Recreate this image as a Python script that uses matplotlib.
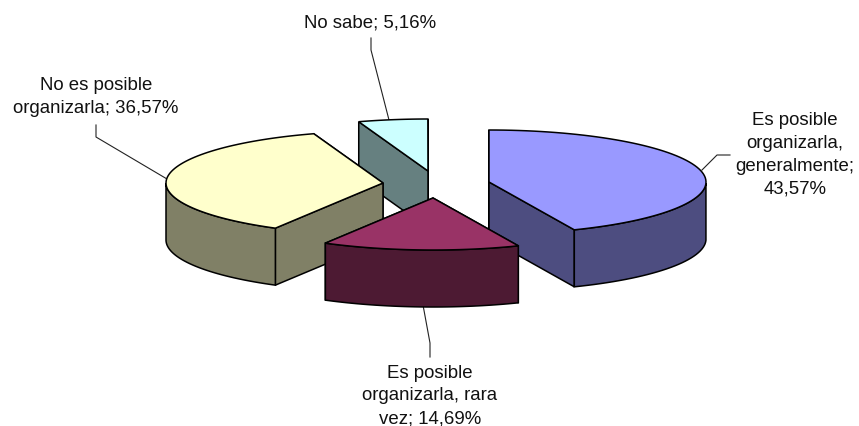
import numpy as np
import matplotlib
matplotlib.use('Agg')
import matplotlib.pyplot as plt
from matplotlib.patches import Polygon

labels = ['Es posible\norganizarla,\ngeneralmente;\n43,57%',
          'Es posible\norganizarla, rara\nvez; 14,69%',
          'No es posible\norganizarla; 36,57%',
          'No sabe; 5,16%']
values = [43.57, 14.69, 36.57, 5.16]
top_colors = ['#9999FF', '#993366', '#FFFFCC', '#CCFFFF']
side_colors = ['#4D4D80', '#4D1A33', '#808066', '#668080']

# pie geometry in image pixels
centers = [(489, 182), (433, 198), (383, 183), (428, 171)]
rx, ry, depth = 217, 52, 57
draw_order = [3, 2, 0, 1]

label_pos = [(795, 155), (430, 396), (96, 97), (370, 23)]
leaders = [[(702, 170), (717, 155), (730, 155)],
           [(423, 305), (430, 343), (430, 357)],
           [(167, 179), (96, 137), (96, 125)],
           [(389, 120), (371, 50), (371, 38)]]

plt.rcParams['font.family'] = ['Liberation Sans', 'DejaVu Sans']
fig = plt.figure(figsize=(8.59, 4.26), dpi=100)
ax = fig.add_axes([0, 0, 1, 1])
ax.set_xlim(0, 859)
ax.set_ylim(426, 0)
ax.axis('off')


def rim(cx, cy, t):
    # t is measured clockwise from 12 o'clock
    return cx + rx * np.sin(t), cy - ry * np.cos(t)


edges = np.radians(np.cumsum([0] + values) * 3.6)

for line in leaders:
    xs, ys = zip(*line)
    ax.plot(xs, ys, color='#222222', lw=0.8, zorder=1)

for z, i in enumerate(draw_order):
    cx, cy = centers[i]
    t = np.linspace(edges[i], edges[i + 1], 80)
    x, y = rim(cx, cy, t)
    zo = 2 + z
    # radial walls, the one nearer the viewer goes last
    for k in sorted((0, -1), key=lambda k: y[k]):
        wall = [(cx, cy), (x[k], y[k]), (x[k], y[k] + depth), (cx, cy + depth)]
        ax.add_patch(Polygon(wall, fc=side_colors[i], ec='black', lw=1.1, zorder=zo))
    # outer wall, only the part facing the viewer
    front = np.cos(t) < 0
    if front.any():
        fx, fy = x[front], y[front]
        pts = np.r_[np.c_[fx, fy], np.c_[fx, fy + depth][::-1]]
        ax.add_patch(Polygon(pts, fc=side_colors[i], ec='black', lw=1.1, zorder=zo))
    ax.add_patch(Polygon(np.r_[[(cx, cy)], np.c_[x, y]], fc=top_colors[i], ec='black',
                         lw=1.1, zorder=zo))

for text, (x, y) in zip(labels, label_pos):
    ax.text(x, y, text, ha='center', va='center', fontsize=13.4, linespacing=1.44,
            color='#111111')

fig.savefig('out.png', dpi=100)
